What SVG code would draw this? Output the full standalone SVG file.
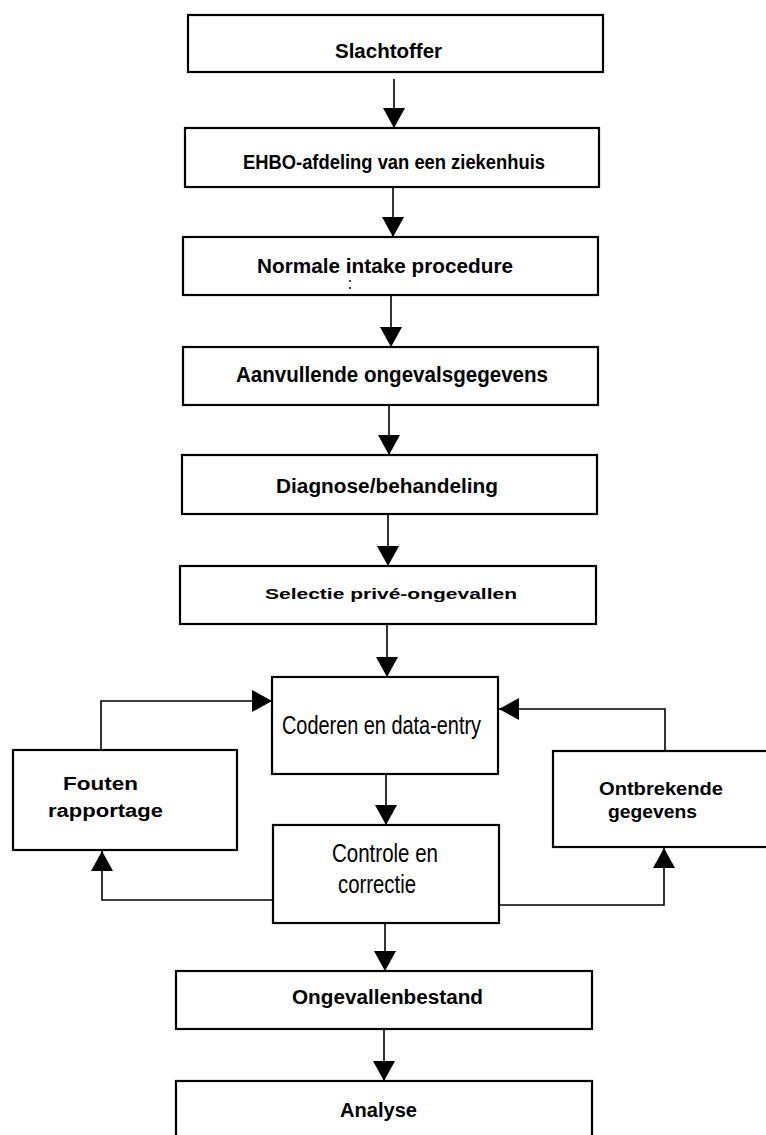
<svg xmlns="http://www.w3.org/2000/svg" width="766" height="1135" viewBox="0 0 766 1135">
<style>
.box{fill:#fff;stroke:#000;stroke-width:2.2}
.t{font-family:"Liberation Sans",Arial,sans-serif;font-weight:bold;fill:#000}
.n{font-family:"Liberation Sans",Arial,sans-serif;font-weight:normal;fill:#000}
.c{fill:none;stroke:#000;stroke-width:1.6}
</style>
<defs>
<marker id="ah" markerUnits="userSpaceOnUse" markerWidth="22" markerHeight="24" refX="20" refY="11" orient="auto" viewBox="0 0 22 22">
<path d="M0,0 L20,11 L0,22 z" fill="#000"/>
</marker>
</defs>
<rect width="766" height="1135" fill="#fff"/>
<g id="connectors">
<path class="c" d="M394,79 V128" marker-end="url(#ah)"/>
<path class="c" d="M393,187 V237" marker-end="url(#ah)"/>
<path class="c" d="M391,295 V347" marker-end="url(#ah)"/>
<path class="c" d="M389,405 V455" marker-end="url(#ah)"/>
<path class="c" d="M388,514 V566" marker-end="url(#ah)"/>
<path class="c" d="M387,624 V677" marker-end="url(#ah)"/>
<path class="c" d="M386,774 V825" marker-end="url(#ah)"/>
<path class="c" d="M385,923 V971" marker-end="url(#ah)"/>
<path class="c" d="M384,1029 V1081" marker-end="url(#ah)"/>
<path class="c" d="M101,750 V701 H272" marker-end="url(#ah)"/>
<path class="c" d="M665,751 V709 H499" marker-end="url(#ah)"/>
<path class="c" d="M273,900 H102 V851" marker-end="url(#ah)"/>
<path class="c" d="M499,905 H664 V848" marker-end="url(#ah)"/>
</g>
<g id="slachtoffer">
<rect class="box" x="188" y="15" width="415" height="57"/>
<text class="t" x="335" y="58" font-size="20" textLength="107" lengthAdjust="spacingAndGlyphs">Slachtoffer</text>
</g>
<g id="ehbo">
<rect class="box" x="185" y="128" width="414" height="59"/>
<text class="t" x="243" y="169" font-size="19.5" textLength="302" lengthAdjust="spacingAndGlyphs">EHBO-afdeling van een ziekenhuis</text>
</g>
<g id="intake">
<rect class="box" x="183" y="237" width="415" height="58"/>
<text class="t" x="257" y="273" font-size="20" textLength="256" lengthAdjust="spacingAndGlyphs">Normale intake procedure</text>
<circle cx="350" cy="281" r="1" fill="#000"/>
<circle cx="350" cy="288" r="1" fill="#000"/>
</g>
<g id="aanvullend">
<rect class="box" x="183" y="347" width="415" height="58"/>
<text class="t" x="236" y="382" font-size="22" textLength="312" lengthAdjust="spacingAndGlyphs">Aanvullende ongevalsgegevens</text>
</g>
<g id="diagnose">
<rect class="box" x="182" y="455" width="415" height="59"/>
<text class="t" x="276" y="493" font-size="20" textLength="222" lengthAdjust="spacingAndGlyphs">Diagnose/behandeling</text>
</g>
<g id="selectie">
<rect class="box" x="180" y="566" width="416" height="58"/>
<text class="t" x="265" y="599" font-size="15" textLength="252" lengthAdjust="spacingAndGlyphs">Selectie privé-ongevallen</text>
</g>
<g id="coderen">
<rect class="box" x="272" y="677" width="226" height="97"/>
<text class="n" x="282" y="734" font-size="25" textLength="199" lengthAdjust="spacingAndGlyphs">Coderen en data-entry</text>
</g>
<g id="controle">
<rect class="box" x="273" y="825" width="226" height="98"/>
<text class="n" x="332" y="862" font-size="25" textLength="106" lengthAdjust="spacingAndGlyphs">Controle en</text>
<text class="n" x="338" y="893" font-size="25" textLength="78" lengthAdjust="spacingAndGlyphs">correctie</text>
</g>
<g id="fouten">
<rect class="box" x="13" y="750" width="224" height="100"/>
<text class="t" x="63" y="790" font-size="18" textLength="75" lengthAdjust="spacingAndGlyphs">Fouten</text>
<text class="t" x="48" y="817" font-size="18" textLength="115" lengthAdjust="spacingAndGlyphs">rapportage</text>
</g>
<g id="ontbrekende">
<rect class="box" x="553" y="751" width="230" height="96"/>
<text class="t" x="599" y="795" font-size="18" textLength="124" lengthAdjust="spacingAndGlyphs">Ontbrekende</text>
<text class="t" x="608" y="818" font-size="18" textLength="89" lengthAdjust="spacingAndGlyphs">gegevens</text>
</g>
<g id="ongevallenbestand">
<rect class="box" x="176" y="971" width="416" height="58"/>
<text class="t" x="292" y="1004" font-size="20" textLength="191" lengthAdjust="spacingAndGlyphs">Ongevallenbestand</text>
</g>
<g id="analyse">
<rect class="box" x="176" y="1081" width="416" height="70"/>
<text class="t" x="340" y="1117" font-size="20" textLength="77" lengthAdjust="spacingAndGlyphs">Analyse</text>
</g>
</svg>
